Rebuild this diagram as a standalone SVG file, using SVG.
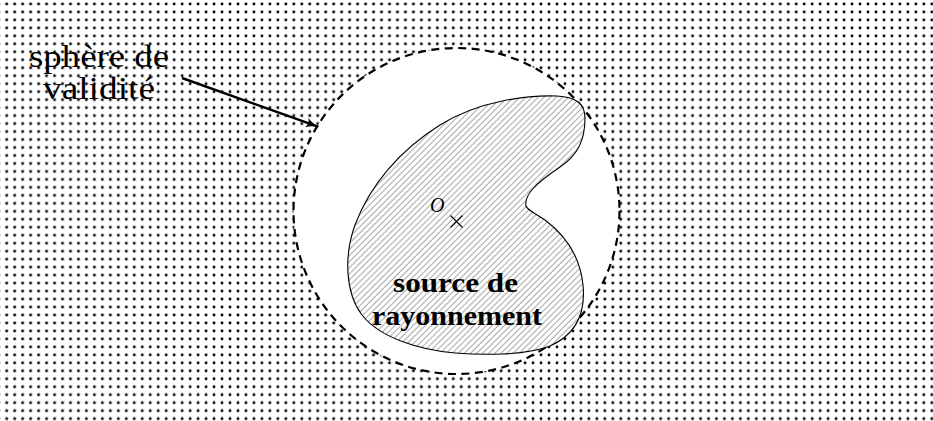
<svg xmlns="http://www.w3.org/2000/svg" width="933" height="421" viewBox="0 0 933 421">
<style>
.lbl{font-family:"Liberation Serif","Times New Roman",serif;fill:#000}
.big{font-size:31px}
.bold{font-size:27px;font-weight:bold}
.it{font-size:20px;font-style:italic}
</style>
<defs>
<pattern id="dots" x="2.7" y="0" width="7.975" height="7.975" patternUnits="userSpaceOnUse">
<circle cx="4" cy="4" r="1.45" fill="#000"/>
</pattern>
<pattern id="hatch" x="0" y="0" width="4.3" height="10" patternUnits="userSpaceOnUse" patternTransform="rotate(45)">
<line x1="2" y1="-1" x2="2" y2="11" stroke="#9a9a9a" stroke-width="0.9"/>
</pattern>
<marker id="arr" viewBox="0 0 12 10" refX="11" refY="5" markerWidth="13" markerHeight="11" markerUnits="userSpaceOnUse" orient="auto">
<path d="M0,0.5 Q5,4 12,5 Q5,6 0,9.5 Q3,5 0,0.5 Z" fill="#000"/>
</marker>
</defs>
<g id="background">
<rect x="0" y="0" width="933" height="421" fill="#fff"/>
<rect x="0" y="0" width="933" height="421" fill="url(#dots)"/>
</g>
<g id="sphere">
<circle cx="456.5" cy="211" r="163" fill="#fff" stroke="#000" stroke-width="2.2" stroke-dasharray="8 5.5"/>
</g>
<g id="source">
<path d="M557,96 C575,97 585,103 585,118 C585,140 578,155 560,167 C535,184 524,195 526,206 C527,210 535,213 545,220 C565,235 580,255 583,285 C586,315 575,335 550,346 C525,356 480,355 455,353 C420,350 380,338 362,315 C345,293 344,255 355,225 C370,185 400,150 440,125 C480,100 530,95 557,96 Z" fill="#fff"/>
<path d="M557,96 C575,97 585,103 585,118 C585,140 578,155 560,167 C535,184 524,195 526,206 C527,210 535,213 545,220 C565,235 580,255 583,285 C586,315 575,335 550,346 C525,356 480,355 455,353 C420,350 380,338 362,315 C345,293 344,255 355,225 C370,185 400,150 440,125 C480,100 530,95 557,96 Z" fill="url(#hatch)" stroke="#000" stroke-width="1.1"/>
<text class="lbl bold" x="455.5" y="292" text-anchor="middle" textLength="125" lengthAdjust="spacingAndGlyphs">source de</text>
<text class="lbl bold" x="457" y="325" text-anchor="middle" textLength="170" lengthAdjust="spacingAndGlyphs">rayonnement</text>
</g>
<g id="origin">
<text class="lbl it" x="430" y="211.5">O</text>
<path d="M450.5,215.5 L462.5,227.5 M450.5,227.5 L462.5,215.5" stroke="#000" stroke-width="1.1" fill="none"/>
</g>
<g id="label-sphere">
<text class="lbl big" x="99" y="67" text-anchor="middle" textLength="140" lengthAdjust="spacingAndGlyphs">sphère de</text>
<text class="lbl big" x="99" y="99" text-anchor="middle" textLength="112" lengthAdjust="spacingAndGlyphs">validité</text>
</g>
<g id="connectors">
<line x1="182" y1="78" x2="318" y2="126.7" stroke="#000" stroke-width="2.4" marker-end="url(#arr)"/>
</g>
</svg>
